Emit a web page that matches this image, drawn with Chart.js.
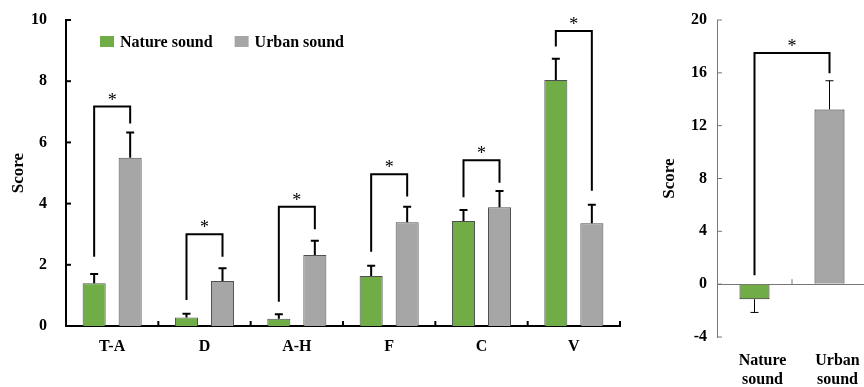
<!DOCTYPE html>
<html>
<head>
<meta charset="utf-8">
<script src="https://cdn.jsdelivr.net/npm/chart.js@4.4.0/dist/chart.umd.min.js"></script>
<style>
html, body { margin: 0; padding: 0; background: #fff; overflow: hidden; width: 864px; height: 387px; }
#left { position: absolute; left: 0; top: 0; }
#right { position: absolute; left: 640px; top: 0; }
</style>
</head>
<body>
<canvas id="left" width="640" height="387"></canvas>
<canvas id="right" width="230" height="387"></canvas>
<script>
// subscales (left panel)
const categories = ['T-A', 'D', 'A-H', 'F', 'C', 'V'];
const natureMeans = [1.40, 0.28, 0.24, 1.63, 3.43, 8.04];
const natureErr = [0.30, 0.12, 0.14, 0.34, 0.36, 0.69];
const urbanMeans = [5.50, 1.47, 2.32, 3.39, 3.88, 3.36];
const urbanErr = [0.82, 0.42, 0.47, 0.51, 0.53, 0.60];
// significance brackets: top line, left leg end, right leg end
const bracketTop = [7.17, 3.00, 3.90, 4.96, 5.42, 9.64];
const bracketLeft = [2.26, 0.85, 0.79, 2.43, 4.21, 9.13];
const bracketRight = [6.62, 2.26, 3.16, 4.23, 4.68, 4.42];
const leftTicks = [0, 2, 4, 6, 8, 10];

// total score (right panel)
const totalCategories = [['Nature', 'sound'], ['Urban', 'sound']];
const totalMeans = [-1.14, 13.23];
const totalErr = [1.00, 2.17];
const totalBracket = { top: 17.5, left: 0.68, right: 15.96 };
const rightTicks = [-4, 0, 4, 8, 12, 16, 20];

const GREEN = '#70AD47';
const GRAY = '#A6A6A6';
const FONT = "'Liberation Serif', 'Times New Roman', serif";

// error bars, brackets, stars, inner tick marks and legend
const extras = {
  id: 'extras',
  afterDatasetsDraw(chart, args, o) {
    const ctx = chart.ctx;
    const y = chart.scales.y;
    ctx.save();
    ctx.strokeStyle = '#000';

    // error bars
    ctx.lineWidth = o.errWidth;
    o.errors.forEach((errs, di) => {
      const vals = chart.data.datasets[di].data;
      chart.getDatasetMeta(di).data.forEach((bar, i) => {
        const v = vals[i];
        const end = v < 0 ? v - errs[i] : v + errs[i];
        const y0 = y.getPixelForValue(v), y1 = y.getPixelForValue(end);
        ctx.beginPath();
        ctx.moveTo(bar.x, y0); ctx.lineTo(bar.x, y1);
        ctx.moveTo(bar.x - o.cap, y1); ctx.lineTo(bar.x + o.cap, y1);
        ctx.stroke();
      });
    });

    // brackets + stars
    ctx.lineWidth = 2;
    ctx.fillStyle = '#000';
    ctx.font = '18px ' + FONT;
    ctx.textAlign = 'center';
    ctx.textBaseline = 'alphabetic';
    o.brackets.forEach(b => {
      const xl = b.xl(chart), xr = b.xr(chart);
      const yt = y.getPixelForValue(b.top);
      ctx.beginPath();
      ctx.moveTo(xl, y.getPixelForValue(b.left));
      ctx.lineTo(xl, yt);
      ctx.lineTo(xr, yt);
      ctx.lineTo(xr, y.getPixelForValue(b.right));
      ctx.stroke();
      ctx.fillText('*', (xl + xr) / 2, yt - 1);
    });
    ctx.restore();
  },
  afterDraw(chart, args, o) {
    const ctx = chart.ctx;
    const x = chart.scales.x, y = chart.scales.y;
    const a = chart.chartArea;
    ctx.save();
    ctx.strokeStyle = o.tickColor;
    ctx.lineWidth = o.tickWidth;
    // y ticks pointing inward
    y.ticks.forEach((t, i) => {
      const py = y.getPixelForTick(i);
      ctx.beginPath(); ctx.moveTo(a.left, py); ctx.lineTo(a.left + 5, py); ctx.stroke();
    });
    // x ticks at category boundaries, pointing up
    const base = y.getPixelForValue(o.baseValue);
    const n = x.ticks.length;
    const bounds = [];
    for (let i = 0; i < n - 1; i++) bounds.push((x.getPixelForTick(i) + x.getPixelForTick(i + 1)) / 2);
    if (o.endTick) bounds.push(a.right);
    bounds.forEach(px => {
      ctx.beginPath(); ctx.moveTo(px, base); ctx.lineTo(px, base - 5); ctx.stroke();
    });

    // legend
    if (o.legend) {
      ctx.font = 'bold 16px ' + FONT;
      ctx.textAlign = 'left';
      ctx.textBaseline = 'alphabetic';
      let lx = o.legend.x;
      chart.data.datasets.forEach(ds => {
        ctx.fillStyle = ds.backgroundColor;
        ctx.fillRect(lx, o.legend.y, 14, 11);
        ctx.fillStyle = '#000';
        ctx.fillText(ds.label, lx + 20, o.legend.y + 11);
        lx += 20 + ctx.measureText(ds.label).width + 22;
      });
    }
    ctx.restore();
  }
};

const tickFont = { family: FONT, size: 16, weight: 'bold' };

// keep the plot area set by layout padding, not by tick-label padding
const fixY = w => s => { s.width = w; s.paddingTop = 0; s.paddingBottom = 0; };

new Chart(document.getElementById('left'), {
  type: 'bar',
  data: {
    labels: categories,
    datasets: [
      { label: 'Nature sound', data: natureMeans, backgroundColor: GREEN, borderColor: '#505050', borderWidth: 1 },
      { label: 'Urban sound', data: urbanMeans, backgroundColor: GRAY, borderColor: '#505050', borderWidth: 1 }
    ]
  },
  options: {
    responsive: false,
    animation: false,
    layout: { padding: { top: 20, right: 20, left: 0, bottom: 0 } },
    categoryPercentage: 0.78,
    barPercentage: 0.64,
    plugins: {
      legend: { display: false },
      tooltip: { enabled: false },
      extras: {
        errors: [natureErr, urbanErr],
        errWidth: 2,
        cap: 4,
        tickColor: '#000',
        tickWidth: 2,
        baseValue: 0,
        endTick: true,
        legend: { x: 100, y: 36 },
        brackets: categories.map((c, i) => ({
          top: bracketTop[i], left: bracketLeft[i], right: bracketRight[i],
          xl: ch => ch.getDatasetMeta(0).data[i].x,
          xr: ch => ch.getDatasetMeta(1).data[i].x
        }))
      }
    },
    scales: {
      x: {
        grid: { display: false, drawTicks: false },
        border: { display: true, color: '#000', width: 2 },
        ticks: { color: '#000', font: tickFont, padding: 11 },
        afterFit: s => { s.height = 61; }
      },
      y: {
        min: 0, max: 10,
        afterBuildTicks: s => { s.ticks = leftTicks.map(v => ({ value: v })); },
        grid: { display: false, drawTicks: false },
        border: { display: true, color: '#000', width: 2 },
        ticks: { color: '#000', font: tickFont, padding: 19 },
        title: { display: true, text: 'Score', color: '#000', font: { family: FONT, size: 17, weight: 'bold' }, padding: { top: 8, bottom: 0 } },
        afterFit: fixY(66)
      }
    }
  },
  plugins: [extras]
});

new Chart(document.getElementById('right'), {
  type: 'bar',
  data: {
    labels: totalCategories,
    datasets: [
      { label: 'Total', data: totalMeans, backgroundColor: [GREEN, GRAY], borderColor: '#222', borderWidth: 1 }
    ]
  },
  options: {
    responsive: false,
    animation: false,
    layout: { padding: { top: 20, right: 3, left: 0, bottom: 0 } },
    categoryPercentage: 0.8,
    barPercentage: 0.5,
    plugins: {
      legend: { display: false },
      tooltip: { enabled: false },
      extras: {
        errors: [totalErr],
        errWidth: 1,
        cap: 4,
        tickColor: '#777',
        tickWidth: 1,
        baseValue: 0,
        endTick: false,
        brackets: [{
          top: totalBracket.top, left: totalBracket.left, right: totalBracket.right,
          xl: ch => ch.getDatasetMeta(0).data[0].x,
          xr: ch => ch.getDatasetMeta(0).data[1].x
        }]
      }
    },
    scales: {
      x: {
        grid: { display: false, drawTicks: false },
        border: { display: false },
        ticks: { color: '#000', font: tickFont, padding: 14, labelOffset: 8 },
        afterFit: s => { s.height = 50; }
      },
      y: {
        min: -4, max: 20,
        afterBuildTicks: s => { s.ticks = rightTicks.map(v => ({ value: v })); },
        grid: {
          drawTicks: false,
          color: c => (c.tick && c.tick.value === 0 ? '#777' : 'rgba(0,0,0,0)'),
          lineWidth: 1
        },
        border: { display: true, color: '#777', width: 1 },
        ticks: { color: '#000', font: tickFont, padding: 10 },
        title: { display: true, text: 'Score', color: '#000', font: { family: FONT, size: 17, weight: 'bold' }, padding: { top: 19, bottom: 0 } },
        afterFit: fixY(77)
      }
    }
  },
  plugins: [extras]
});
</script>
</body>
</html>
